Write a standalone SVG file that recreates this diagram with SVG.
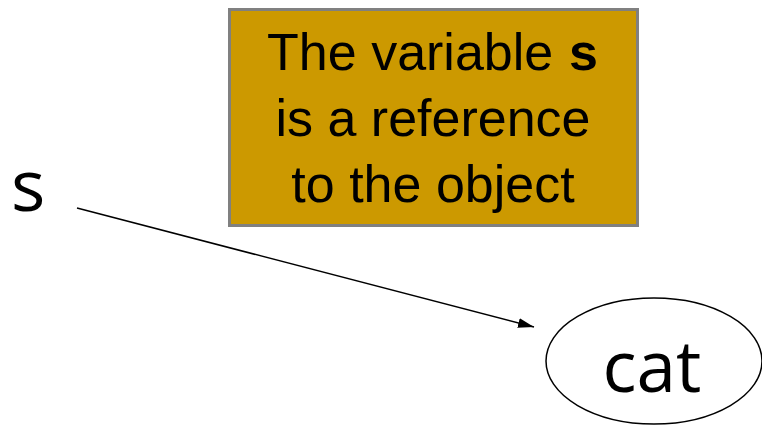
<svg xmlns="http://www.w3.org/2000/svg" width="762" height="433" viewBox="0 0 762 433">
<style>
.note{font-family:"Liberation Sans",Arial,sans-serif;font-size:52px;fill:#000;text-anchor:middle}
.mono{font-family:"Liberation Mono","Courier New",monospace;font-weight:bold}
.lbl{font-family:"Open Sans","DejaVu Sans",sans-serif;fill:#000}
</style>
<defs>
<marker id="arr" markerWidth="10" markerHeight="8" refX="10" refY="4" orient="auto" markerUnits="userSpaceOnUse"><path d="M0,0 L17,4 L0,8 z" transform="scale(0.6,1)"/></marker>
<marker id="ah" viewBox="0 0 16 10" markerWidth="16" markerHeight="10" refX="16" refY="5" orient="auto" markerUnits="userSpaceOnUse"><path d="M0,0 L16,5 L0,10 z" fill="#000"/></marker>
</defs>
<g id="note">
<rect x="229.5" y="9.5" width="408" height="216" fill="#CC9900" stroke="#808080" stroke-width="3"/>
<text class="note" x="433" y="70">The variable <tspan class="mono">s</tspan></text>
<text class="note" x="433" y="136">is a reference</text>
<text class="note" x="433" y="202">to the object</text>
</g>
<g id="var-s">
<text class="lbl" x="11" y="211" font-size="72">s</text>
</g>
<g id="cat">
<ellipse cx="654" cy="361" rx="108" ry="63" fill="none" stroke="#000" stroke-width="1.5"/>
<text class="lbl" x="652" y="392" font-size="71" text-anchor="middle">cat</text>
</g>
<g id="connectors">
<line x1="77" y1="208" x2="534" y2="327" stroke="#000" stroke-width="1.5" marker-end="url(#ah)"/>
</g>
</svg>
